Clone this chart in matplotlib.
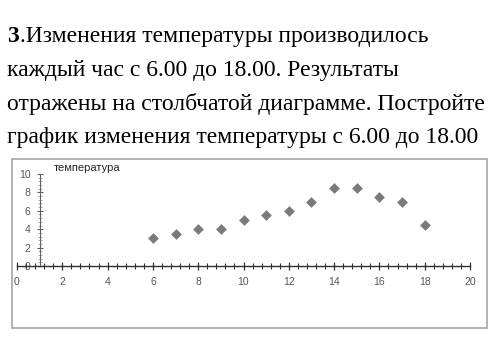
import matplotlib.pyplot as plt
from matplotlib.patches import Rectangle
from matplotlib.ticker import MultipleLocator

# task text (one entry per line, first line starts with a bold number)
task_number = "3"
task_lines = [
    ".Изменения температуры производилось",
    "каждый час с 6.00 до 18.00. Результаты",
    "отражены на столбчатой диаграмме. Постройте",
    "график изменения температуры с 6.00 до 18.00",
]
chart_title = "температура"

# hourly readings
hours = [6, 7, 8, 9, 10, 11, 12, 13, 14, 15, 16, 17, 18]
temperature = [3.0, 3.5, 4.0, 4.0, 5.0, 5.5, 6.0, 7.0, 8.5, 8.5, 7.5, 7.0, 4.5]

W, H = 500, 364
fig = plt.figure(figsize=(W / 100, H / 100), dpi=100)
fig.patch.set_facecolor("white")


def px(x, y):
    """pixel position (from top-left) -> figure fraction"""
    return x / W, 1 - y / H


# text block above the chart
serif = ["Liberation Serif", "DejaVu Serif"]
text_size = 17
baselines = [42, 76, 110, 143]
fig.text(*px(7, baselines[0]), task_number, family=serif, fontsize=text_size,
         fontweight="bold", va="baseline")
fig.text(*px(19.5, baselines[0]), task_lines[0], family=serif, fontsize=text_size,
         va="baseline")
for line, y in zip(task_lines[1:], baselines[1:]):
    fig.text(*px(7, y), line, family=serif, fontsize=text_size, va="baseline")

# chart frame
fig.patches.append(Rectangle(px(12, 328), 475 / W, 169 / H, transform=fig.transFigure,
                             fill=False, edgecolor="#a6a6a6", linewidth=1.2))

# plot area: x 0..20 -> 17..470 px, y 0..10 -> 266..174 px
x0, x1 = 17, 470
y0, y1 = 266, 174
ax = fig.add_axes([x0 / W, 1 - y0 / H, (x1 - x0) / W, (y0 - y1) / H])
ax.set_facecolor("none")
ax.set_xlim(0, 20)
ax.set_ylim(0, 10)

ax.scatter(hours, temperature, marker="D", s=30, color="#7a7a7a", zorder=3,
           linewidths=0, clip_on=False)

for side in ["top", "right"]:
    ax.spines[side].set_visible(False)
ax.spines["left"].set_position(("data", 1))
ax.spines["bottom"].set_position(("data", 0))
ax.spines["bottom"].set_color("#303030")
ax.spines["bottom"].set_linewidth(1.0)
ax.spines["left"].set_color("#606060")
ax.spines["left"].set_linewidth(0.8)

ax.xaxis.set_major_locator(MultipleLocator(2))
ax.xaxis.set_minor_locator(MultipleLocator(0.4))
ax.yaxis.set_major_locator(MultipleLocator(2))
ax.yaxis.set_minor_locator(MultipleLocator(0.4))

ax.tick_params(axis="x", which="major", direction="inout", length=6, width=0.9,
               color="#303030", labelsize=7.5, labelcolor="#555555", pad=5)
ax.tick_params(axis="x", which="minor", direction="inout", length=4.5, width=0.8,
               color="#303030")
ax.tick_params(axis="y", which="major", direction="inout", length=5, width=0.8,
               color="#606060", labelsize=7.5, labelcolor="#555555", pad=4)
ax.tick_params(axis="y", which="minor", direction="inout", length=2.5, width=0.5,
               color="#909090")
for lab in ax.get_xticklabels() + ax.get_yticklabels():
    lab.set_family(["Liberation Sans", "DejaVu Sans"])

fig.text(*px(54, 171), chart_title, family=["Liberation Sans", "DejaVu Sans"],
         fontsize=8, color="#222222", va="baseline")

fig.savefig("out.png", dpi=100, facecolor="white")
